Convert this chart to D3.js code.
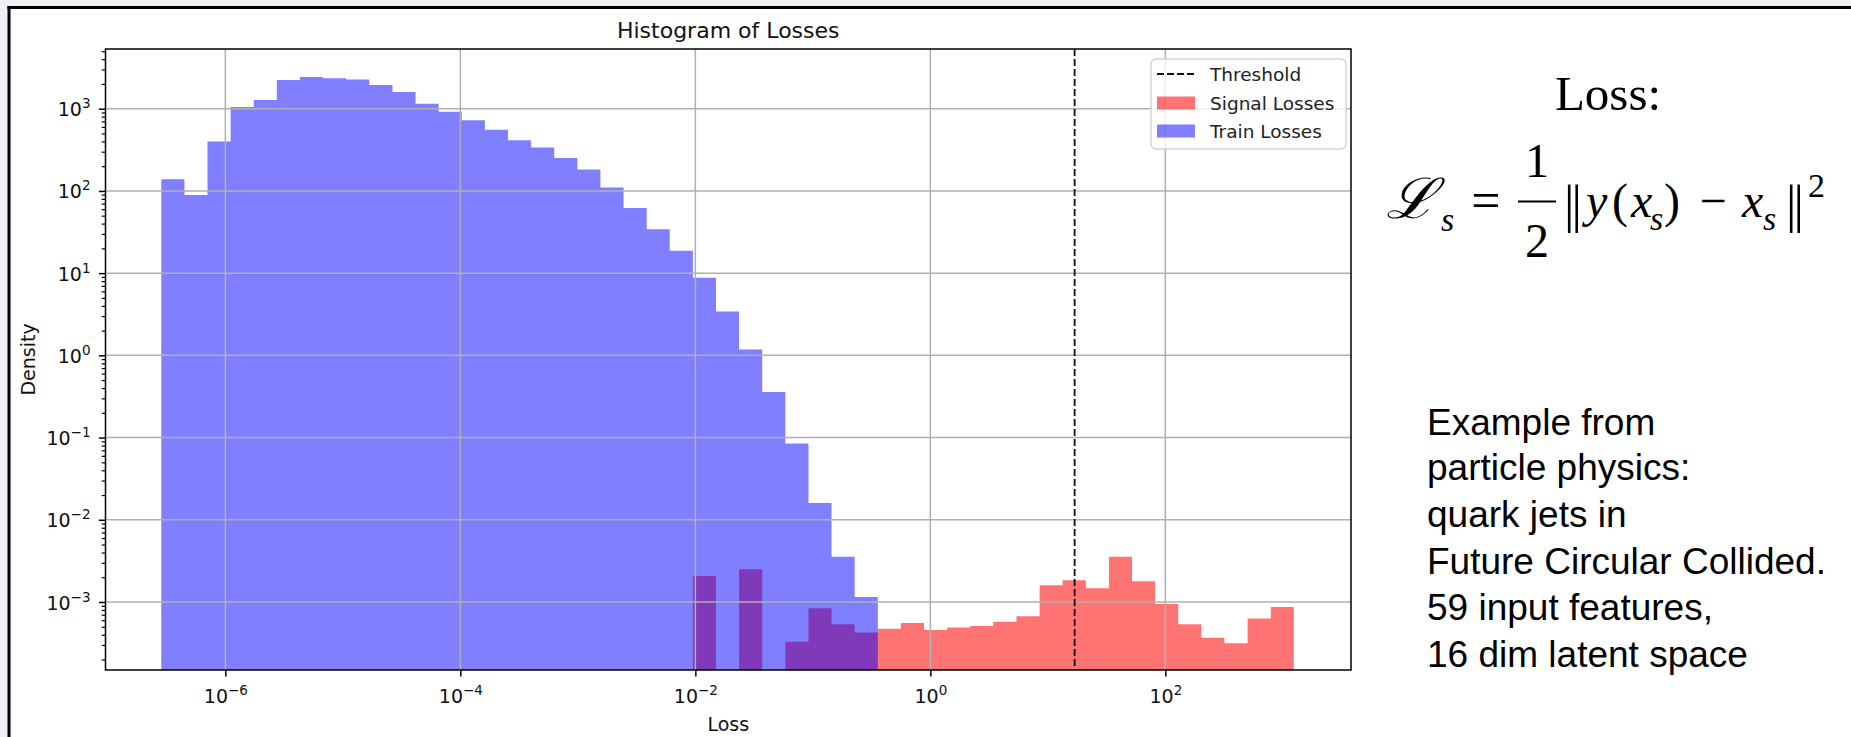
<!DOCTYPE html>
<html><head><meta charset="utf-8">
<script src="https://cdn.jsdelivr.net/npm/d3@7"></script>
<style>body{margin:0;background:#fff} svg{display:block}</style>
</head><body>
<svg id="c" width="1851" height="737"></svg>
<script>
// ---- data (log10 of bin edges, densities) ----
const binEdgesExp = [-6.545,-6.348,-6.152,-5.955,-5.758,-5.562,-5.365,-5.168,-4.971,-4.775,
  -4.578,-4.381,-4.185,-3.988,-3.791,-3.595,-3.398,-3.201,-3.004,-2.808,
  -2.611,-2.414,-2.218,-2.021,-1.824,-1.628,-1.431,-1.234,-1.037,-0.841,
  -0.644,-0.447,-0.251,-0.054,0.143,0.339,0.536,0.733,0.930,1.126,
  1.323,1.520,1.716,1.913,2.110,2.306,2.503,2.700,2.897,3.093];
const trainDensity = [139,89,400,1050,1276,2240,2436,2345,2260,1945,
  1600,1151,919,721,555,412,338,251,182,110,
  62,34.1,18.7,8.8,3.41,1.18,0.358,0.0846,0.016,0.00354,0.00115];
const signalDensity = [0,0,0,0,0,0,0,0,0,0,
  0,0,0,0,0,0,0,0,0,0,
  0,0,0,0.00207,0,0.00251,0,0.000329,0.000838,0.000535,
  0.000427,0.000473,0.000555,0.000456,0.000491,0.000509,0.000577,0.00067,0.0016,0.00184,
  0.00147,0.00354,0.00179,0.000946,0.000535,0.000368,0.000316,0.000628,0.000869];
const thresholdLoss = 16.9;
const xTickValues = [1e-6,1e-4,1e-2,1e0,1e2];
const xTickExponents = ["−6","−4","−2","0","2"];
const yTickValues = [1e-3,1e-2,1e-1,1e0,1e1,1e2,1e3];
const yTickExponents = ["−3","−2","−1","0","1","2","3"];
const legendLabels = ["Threshold","Signal Losses","Train Losses"];
const noteLines = ["Example from","particle physics:","quark jets in","Future Circular Collided.","59 input features,","16 dim latent space"];

// ---- layout ----
const svg = d3.select("#c");
const L = 105.5, R = 1351, T = 49, B = 670;
const x = d3.scaleLog().domain([Math.pow(10,-7.02), Math.pow(10,3.58)]).range([L, R]);
const y = d3.scaleLog().domain([Math.pow(10,-3.827), Math.pow(10,3.726)]).range([B, T]);
const FONT = "DejaVu Sans, sans-serif";

// page frame
svg.append("rect").attr("x",0).attr("y",0).attr("width",1851).attr("height",7).attr("fill","#eef0f5");
svg.append("rect").attr("x",0).attr("y",0).attr("width",8).attr("height",737).attr("fill","#eef0f5");
svg.append("line").attr("x1",7.5).attr("x2",1851).attr("y1",7.5).attr("y2",7.5).attr("stroke","#000").attr("stroke-width",3);
svg.append("line").attr("x1",9).attr("x2",9).attr("y1",6).attr("y2",737).attr("stroke","#000").attr("stroke-width",3);

// histogram paths
function histPath(vals){
  let d = "";
  vals.forEach((v,i)=>{
    if(v>0){
      const x0 = x(Math.pow(10,binEdgesExp[i])), x1 = x(Math.pow(10,binEdgesExp[i+1]));
      const yt = y(v);
      d += `M${x0},${B}V${yt}H${x1}V${B}Z`;
    }
  });
  return d;
}
svg.append("path").attr("d",histPath(signalDensity)).attr("fill","#ff0000").attr("fill-opacity",0.55);
svg.append("path").attr("d",histPath(trainDensity)).attr("fill","#0000ff").attr("fill-opacity",0.5);

// grid
const grid = svg.append("g").attr("stroke","#b0b0b0").attr("stroke-width",1.5);
xTickValues.forEach(v=>grid.append("line").attr("x1",x(v)).attr("x2",x(v)).attr("y1",T).attr("y2",B));
yTickValues.forEach(v=>grid.append("line").attr("x1",L).attr("x2",R).attr("y1",y(v)).attr("y2",y(v)));

// threshold
svg.append("line").attr("x1",x(thresholdLoss)).attr("x2",x(thresholdLoss)).attr("y1",T).attr("y2",B)
  .attr("stroke","#111").attr("stroke-width",1.8).attr("stroke-dasharray","7,3");

// axes
const xAxis = d3.axisBottom(x).tickValues(xTickValues).tickSize(6.6).tickFormat(()=>"");
const gx = svg.append("g").attr("transform",`translate(0,${B})`).call(xAxis);
gx.select(".domain").remove();
gx.selectAll(".tick line").attr("stroke","#000").attr("stroke-width",1.5);
gx.selectAll(".tick").each(function(d,i){
  const t = d3.select(this).append("text").attr("y",33).attr("text-anchor","middle")
    .attr("font-family",FONT).attr("font-size",19).attr("fill","#111");
  t.append("tspan").text("10");
  t.append("tspan").attr("dy",-8).attr("font-size",13.5).text(xTickExponents[i]);
});

const minor = [];
for(let k=-4;k<=3;k++) for(let m=2;m<=9;m++){ const v=m*Math.pow(10,k); if(v>y.domain()[0] && v<y.domain()[1]) minor.push(v); }
const gyMinor = svg.append("g").attr("transform",`translate(${L},0)`)
  .call(d3.axisLeft(y).tickValues(minor).tickSize(3.8).tickFormat(()=>""));
gyMinor.select(".domain").remove();
gyMinor.selectAll(".tick line").attr("stroke","#000").attr("stroke-width",1.2);

const gy = svg.append("g").attr("transform",`translate(${L},0)`)
  .call(d3.axisLeft(y).tickValues(yTickValues).tickSize(6.6).tickFormat(()=>""));
gy.select(".domain").remove();
gy.selectAll(".tick line").attr("stroke","#000").attr("stroke-width",1.5);
gy.selectAll(".tick").each(function(d,i){
  const t = d3.select(this).append("text").attr("x",-15).attr("y",7).attr("text-anchor","end")
    .attr("font-family",FONT).attr("font-size",19).attr("fill","#111");
  t.append("tspan").text("10");
  t.append("tspan").attr("dy",-8).attr("font-size",13.5).text(yTickExponents[i]);
});

// spines
svg.append("rect").attr("x",L).attr("y",T).attr("width",R-L).attr("height",B-T)
  .attr("fill","none").attr("stroke","#000").attr("stroke-width",1.5);

// titles
svg.append("text").attr("x",(L+R)/2).attr("y",38).attr("text-anchor","middle")
  .attr("font-family",FONT).attr("font-size",22).attr("fill","#111").text("Histogram of Losses");
svg.append("text").attr("x",(L+R)/2).attr("y",731).attr("text-anchor","middle")
  .attr("font-family",FONT).attr("font-size",19).attr("fill","#111").text("Loss");
svg.append("text").attr("transform",`translate(35,${(T+B)/2}) rotate(-90)`).attr("text-anchor","middle")
  .attr("font-family",FONT).attr("font-size",19).attr("fill","#111").text("Density");

// legend
const lg = svg.append("g");
lg.append("rect").attr("x",1151).attr("y",59).attr("width",195).attr("height",90).attr("rx",5)
  .attr("fill","#fff").attr("fill-opacity",0.8).attr("stroke","#d3d3d3").attr("stroke-width",1.5);
const rowsY = [74,103,131];
lg.append("line").attr("x1",1157).attr("x2",1195).attr("y1",rowsY[0]).attr("y2",rowsY[0])
  .attr("stroke","#111").attr("stroke-width",1.8).attr("stroke-dasharray","7,3");
lg.append("rect").attr("x",1157).attr("y",rowsY[1]-6.5).attr("width",38).attr("height",13).attr("fill","#ff0000").attr("fill-opacity",0.55);
lg.append("rect").attr("x",1157).attr("y",rowsY[2]-6.5).attr("width",38).attr("height",13).attr("fill","#0000ff").attr("fill-opacity",0.5);
legendLabels.forEach((s,i)=>lg.append("text").attr("x",1210).attr("y",rowsY[i]+6.5)
  .attr("font-family",FONT).attr("font-size",18.5).attr("fill","#222").text(s));

// formula
const SERIF = "Liberation Serif, Times New Roman, serif";
const f = svg.append("g").attr("font-family",SERIF).attr("fill","#000");
f.append("text").attr("x",1608).attr("y",110).attr("text-anchor","middle").attr("font-size",49).text("Loss:");
f.append("text").attr("transform","translate(1386,218) scale(1.08,1)").attr("font-size",56)
  .attr("font-style","italic").attr("font-family","DejaVu Serif, serif").text("ℒ");
f.append("text").attr("x",1441).attr("y",231).attr("font-size",34).attr("font-style","italic").text("s");
f.append("text").attr("x",1486).attr("y",218).attr("text-anchor","middle").attr("font-size",52).text("=");
f.append("text").attr("x",1537).attr("y",177).attr("text-anchor","middle").attr("font-size",48).text("1");
f.append("line").attr("x1",1518).attr("x2",1556).attr("y1",201.5).attr("y2",201.5).attr("stroke","#000").attr("stroke-width",2.2);
f.append("text").attr("x",1537).attr("y",257).attr("text-anchor","middle").attr("font-size",48).text("2");
f.append("text").attr("x",1564).attr("y",222).attr("font-size",52).attr("letter-spacing",-3).text("||");
f.append("text").attr("x",1586).attr("y",217).attr("font-size",48).attr("font-style","italic").text("y");
f.append("text").attr("x",1612).attr("y",217).attr("font-size",48).text("(");
f.append("text").attr("x",1631).attr("y",217).attr("font-size",48).attr("font-style","italic").text("x");
f.append("text").attr("x",1650).attr("y",230).attr("font-size",34).attr("font-style","italic").text("s");
f.append("text").attr("x",1664).attr("y",217).attr("font-size",48).text(")");
f.append("text").attr("x",1713).attr("y",217).attr("text-anchor","middle").attr("font-size",48).text("−");
f.append("text").attr("x",1742).attr("y",217).attr("font-size",48).attr("font-style","italic").text("x");
f.append("text").attr("x",1763).attr("y",230).attr("font-size",34).attr("font-style","italic").text("s");
f.append("text").attr("x",1786).attr("y",222).attr("font-size",52).attr("letter-spacing",-3).text("||");
f.append("text").attr("x",1808).attr("y",197).attr("font-size",34).text("2");

// note
const nt = svg.append("g").attr("font-family","Liberation Sans, Arial, sans-serif").attr("font-size",37).attr("fill","#000");
const noteBase = [435,480,527,574,620,667];
noteLines.forEach((s,i)=>nt.append("text").attr("x",1427).attr("y",noteBase[i]).text(s));
</script>
</body></html>
